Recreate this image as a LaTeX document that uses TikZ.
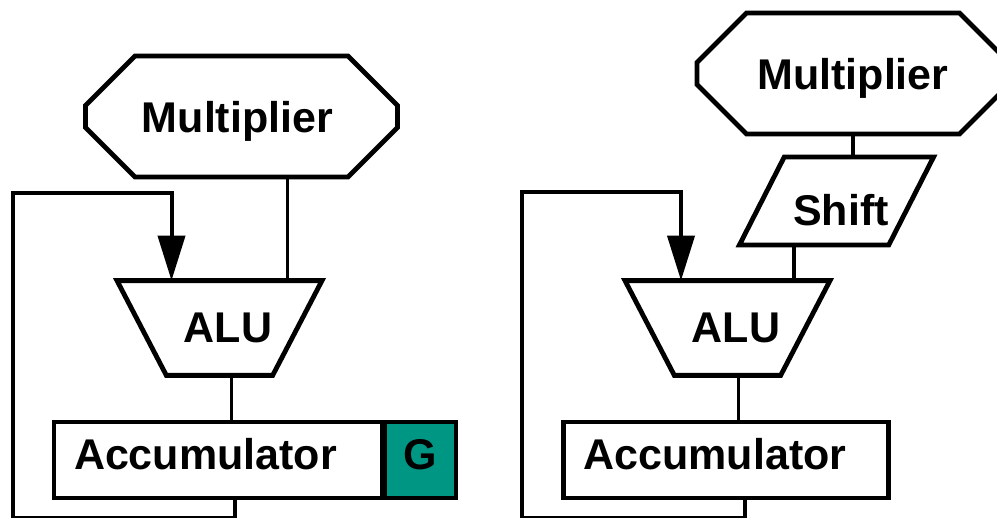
\documentclass[tikz,border=0pt]{standalone}
\usepackage{fontspec}
\setmainfont{Liberation Sans}
\usepackage{xcolor}
\usetikzlibrary{arrows.meta,positioning,calc,shapes.geometric,shapes.misc}
\definecolor{guardgreen}{RGB}{0,150,132}

\begin{document}
\begin{tikzpicture}[
    x=1pt, y=-1pt,
    >={Triangle[length=45pt,width=27pt]},
    every node/.style={font=\fontsize{43}{49}\selectfont\bfseries, outer sep=0pt},
    multbox/.style={draw, line width=4.8pt, chamfered rectangle, chamfered rectangle angle=45, chamfered rectangle xsep=34pt, chamfered rectangle ysep=34pt, minimum width=312pt, minimum height=121pt, inner sep=0pt, text depth=0pt},
    alubox/.style={draw, line width=4.8pt, trapezium, trapezium left angle=117.5, trapezium right angle=117.5, trapezium stretches body, minimum width=205pt, inner xsep=0pt, inner ysep=32.6pt, text depth=0pt},
    shiftbox/.style={draw, line width=4.8pt, trapezium, trapezium left angle=63, trapezium right angle=117, trapezium stretches body, minimum width=193pt, inner xsep=0pt, inner ysep=28.4pt},
    accbox/.style={draw, line width=4.8pt, rectangle, minimum height=76pt, inner xsep=20pt, inner ysep=0pt, align=left, text depth=12pt},
    guardbox/.style={draw, line width=4.8pt, fill=guardgreen, minimum width=71pt, minimum height=76pt, inner sep=0pt, text depth=12pt},
    wire/.style={line width=3.3pt},
    feedback/.style={line width=4pt}
]
\useasboundingbox (0,0) rectangle (997,518);

% accumulator with guard bits
\node[multbox] (mulL) at (241.5,116.5) {Multiplier\hspace*{8pt}};
\node[alubox] (aluL) at (219.5,328) {\hspace*{17pt}ALU};
\node[accbox, text width=288pt] (accL) at (218,460) {Accumulator};
\node[guardbox, right=3pt of accL] (guardL) {G};

\coordinate (tapL) at ([xshift=46pt]mulL.south);
\coordinate (sumL) at ([xshift=12pt]aluL.south);
\coordinate (loopL) at (13,193);

\draw[wire] (tapL) -- (tapL |- aluL.north);
\draw[wire] (sumL) -- (sumL |- accL.north);
\draw[feedback, ->] ([xshift=17pt]accL.south) -- ++(0,20) -| (loopL) -| ([xshift=-48pt]aluL.north);

% accumulator fed through a shifter
\node[multbox] (mulR) at (853,73.5) {Multiplier};
\node[shiftbox] (shiftR) at (836.5,201) {\raisebox{-9pt}[\height][0pt]{\hspace*{9pt}Shift}};
\node[alubox] (aluR) at (727.5,328) {\hspace*{17pt}ALU};
\node[accbox, text width=285pt] (accR) at (726,460) {Accumulator};

\coordinate (tapR) at ([xshift=-42.5pt]shiftR.south);
\coordinate (sumR) at ([xshift=11pt]aluR.south);
\coordinate (loopR) at (521.5,192);

\draw[wire] (mulR.south) -- (mulR.south |- shiftR.north);
\draw[wire] (tapR) -- (tapR |- aluR.north);
\draw[wire] (sumR) -- (sumR |- accR.north);
\draw[feedback, ->] ([xshift=19pt]accR.south) -- ++(0,20) -| (loopR) -| ([xshift=-46.5pt]aluR.north);
\end{tikzpicture}
\end{document}
